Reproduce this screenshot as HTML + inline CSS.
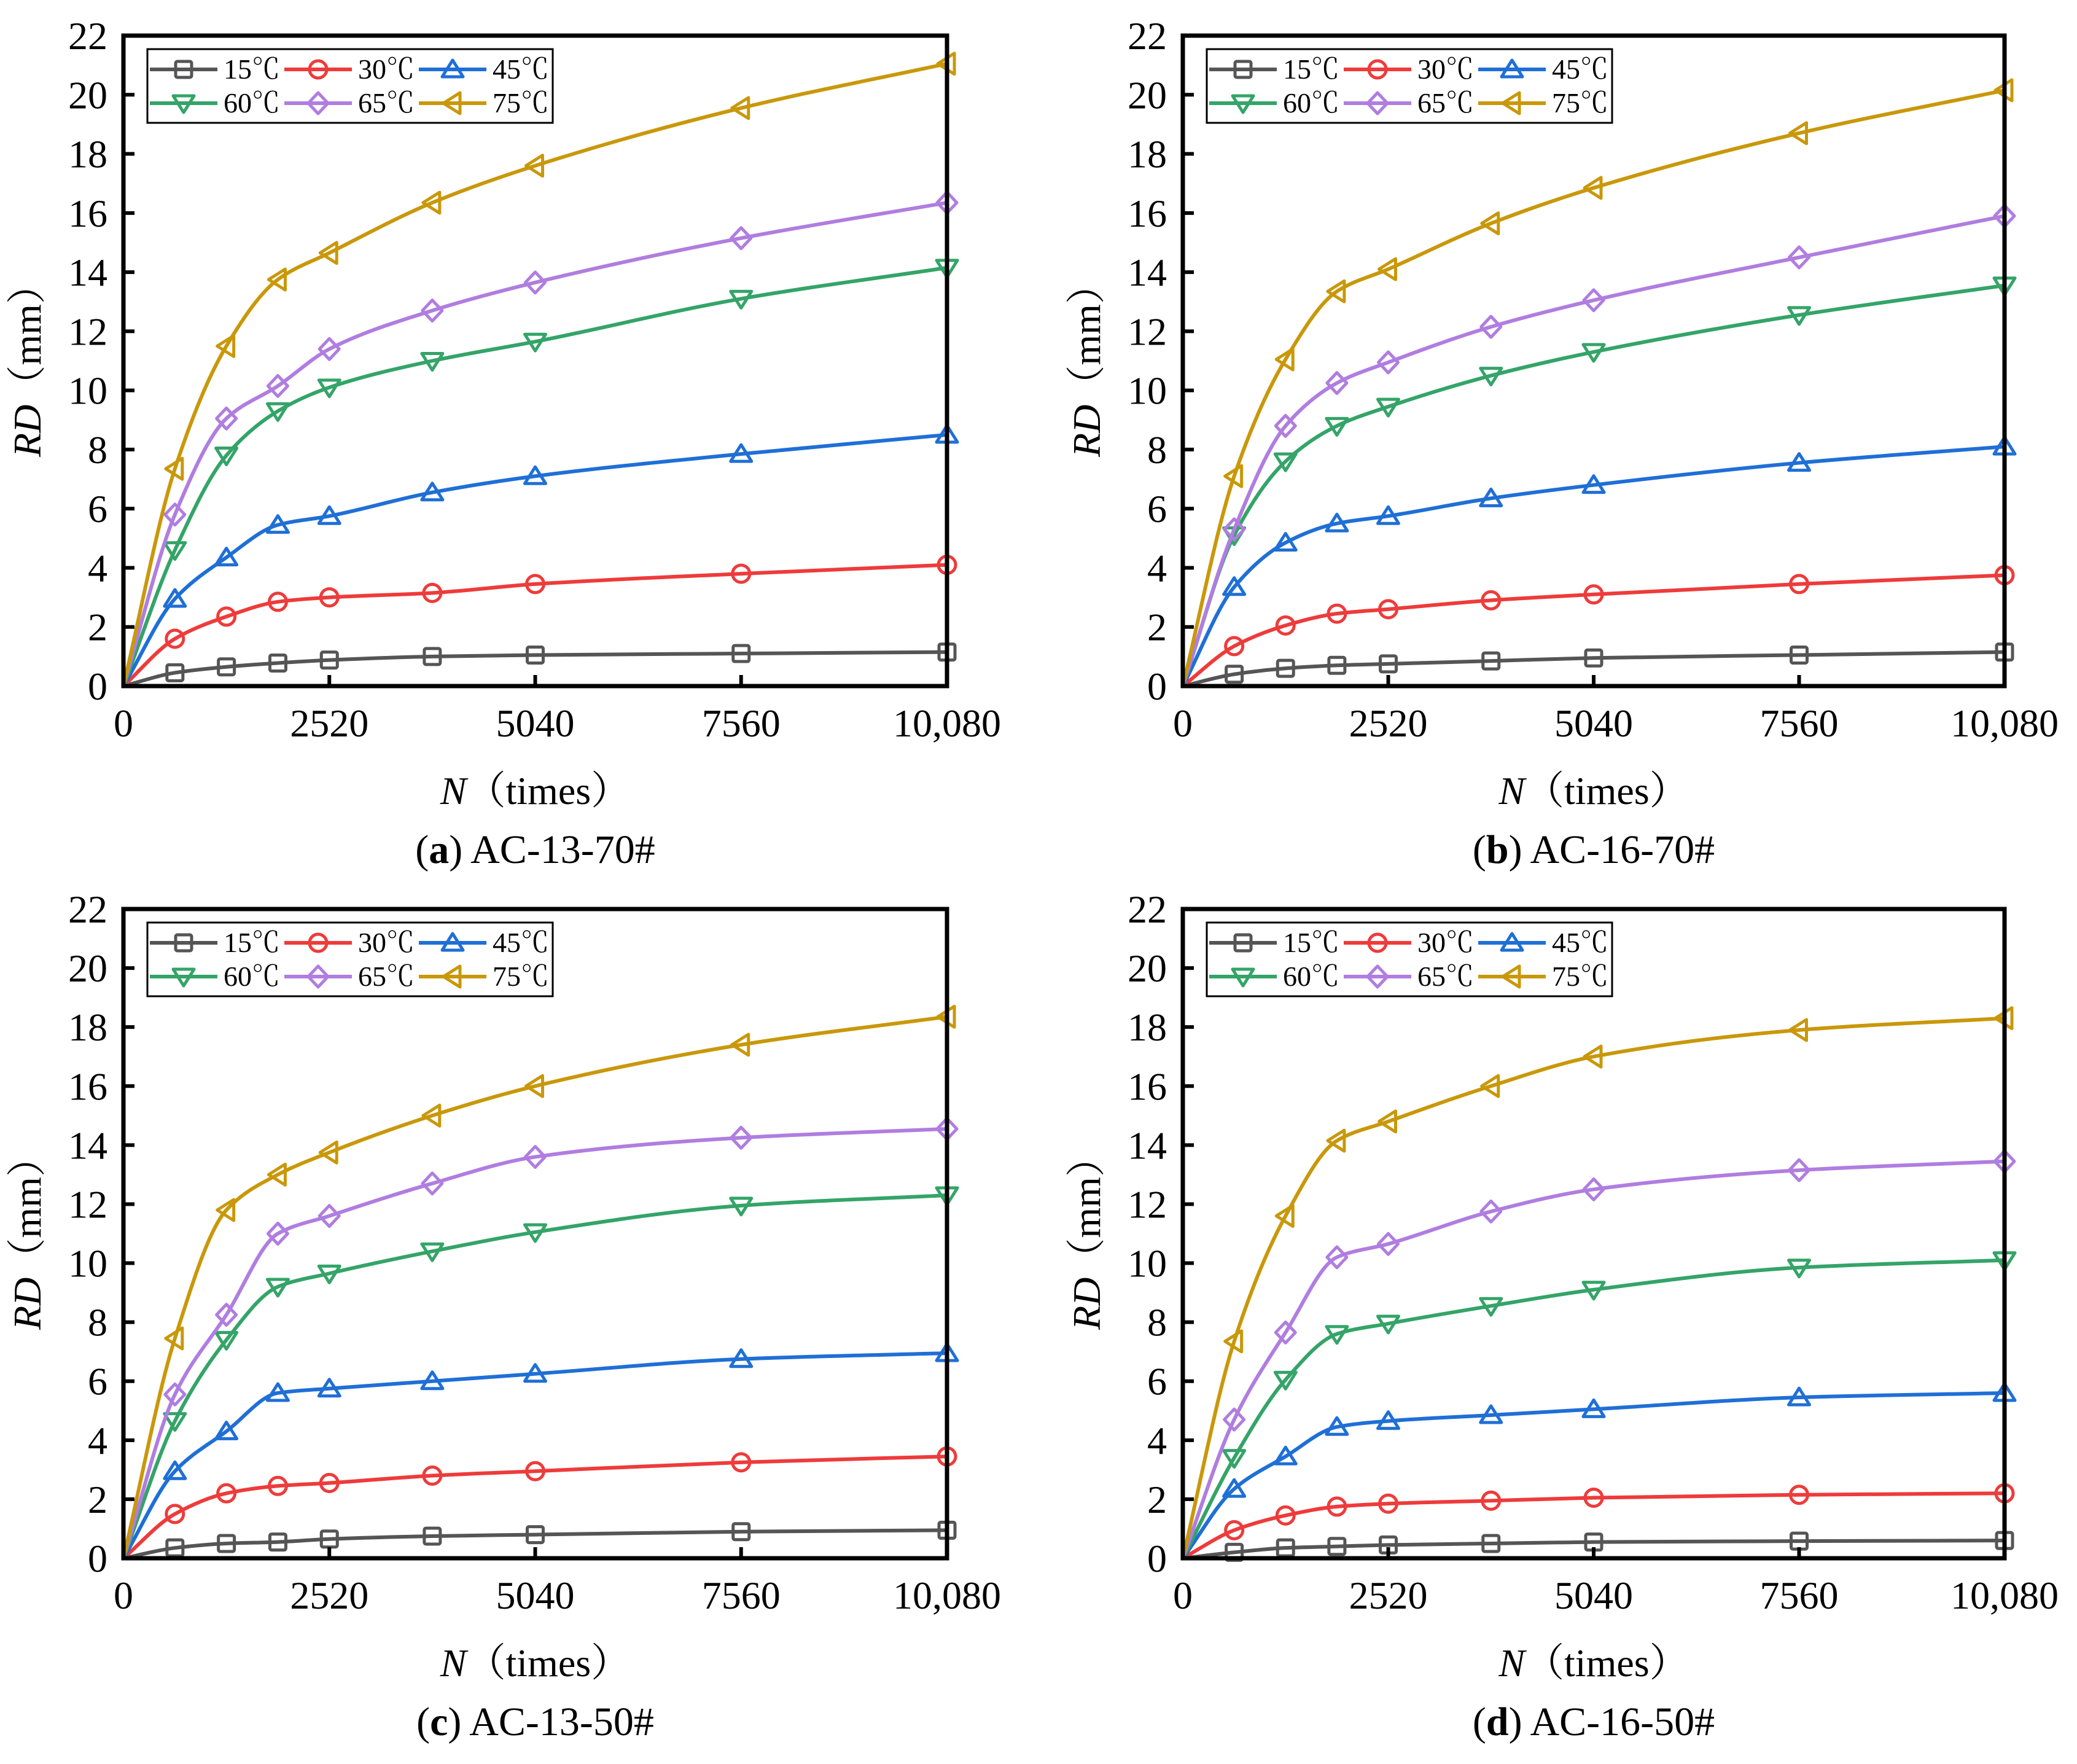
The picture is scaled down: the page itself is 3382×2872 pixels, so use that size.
<!DOCTYPE html>
<html><head><meta charset="utf-8">
<style>
html,body{margin:0;padding:0;background:#fff;}
svg{display:block;}
text{font-family:"Liberation Serif","Noto Serif CJK SC",serif;fill:#000;}
</style></head>
<body>
<svg id="fig" width="3382" height="2872" viewBox="0 0 3382 2872" xmlns="http://www.w3.org/2000/svg"></svg>
<script>
const cycles = [0, 630, 1260, 1890, 2520, 3780, 5040, 7560, 10080];
const seriesNames = ["15℃", "30℃", "45℃", "60℃", "65℃", "75℃"];
const xTicks = [0, 2520, 5040, 7560, 10080];
const xTickLabels = ["0", "2520", "5040", "7560", "10,080"];
const yTicks = [0, 2, 4, 6, 8, 10, 12, 14, 16, 18, 20, 22];
const panelCaptions = ["(a)", "(b)", "(c)", "(d)"];
const panelTitles = [" AC-13-70#", " AC-16-70#", " AC-13-50#", " AC-16-50#"];
const rdA15 = [0,0.45,0.65,0.78,0.88,1.0,1.05,1.1,1.15];
const rdA30 = [0,1.6,2.35,2.85,3.0,3.15,3.45,3.8,4.1];
const rdA45 = [0,2.95,4.35,5.45,5.75,6.55,7.1,7.85,8.5];
const rdA60 = [0,4.6,7.8,9.3,10.1,11.0,11.65,13.1,14.15];
const rdA65 = [0,5.8,9.05,10.15,11.4,12.7,13.65,15.15,16.35];
const rdA75 = [0,7.35,11.5,13.75,14.65,16.35,17.6,19.55,21.05];
const rdB15 = [0,0.4,0.6,0.7,0.75,0.85,0.95,1.05,1.15];
const rdB30 = [0,1.35,2.05,2.45,2.6,2.9,3.1,3.45,3.75];
const rdB45 = [0,3.35,4.85,5.5,5.75,6.35,6.8,7.55,8.1];
const rdB60 = [0,5.1,7.6,8.8,9.45,10.5,11.3,12.55,13.55];
const rdB65 = [0,5.3,8.8,10.25,10.95,12.15,13.05,14.5,15.9];
const rdB75 = [0,7.1,11.05,13.35,14.1,15.65,16.85,18.7,20.15];
const rdC15 = [0,0.35,0.5,0.55,0.65,0.75,0.8,0.9,0.95];
const rdC30 = [0,1.5,2.2,2.45,2.55,2.8,2.95,3.25,3.45];
const rdC45 = [0,2.95,4.3,5.6,5.75,6.0,6.25,6.75,6.95];
const rdC60 = [0,4.65,7.4,9.2,9.65,10.4,11.05,11.95,12.3];
const rdC65 = [0,5.55,8.25,11.0,11.6,12.7,13.6,14.25,14.55];
const rdC75 = [0,7.45,11.8,13.0,13.75,15.0,16.0,17.4,18.35];
const rdD15 = [0,0.2,0.35,0.4,0.45,0.5,0.55,0.58,0.6];
const rdD30 = [0,0.95,1.45,1.75,1.85,1.95,2.05,2.15,2.2];
const rdD45 = [0,2.35,3.45,4.45,4.65,4.85,5.05,5.45,5.6];
const rdD60 = [0,3.4,6.05,7.6,7.95,8.55,9.1,9.85,10.1];
const rdD65 = [0,4.7,7.65,10.2,10.65,11.75,12.5,13.15,13.45];
const rdD75 = [0,7.35,11.6,14.15,14.8,16.0,17.0,17.9,18.3];

const panelData = [
  [rdA15, rdA30, rdA45, rdA60, rdA65, rdA75],
  [rdB15, rdB30, rdB45, rdB60, rdB65, rdB75],
  [rdC15, rdC30, rdC45, rdC60, rdC65, rdC75],
  [rdD15, rdD30, rdD45, rdD60, rdD65, rdD75]
];
const colors = ["#555555", "#ee3b3b", "#1f6fd6", "#34a468", "#b07de0", "#c9980a"];
const markers = ["square", "circle", "up", "down", "diamond", "left"];
const NS = "http://www.w3.org/2000/svg";
const svg = document.getElementById("fig");

function el(tag, attrs, parent) {
  const e = document.createElementNS(NS, tag);
  for (const k in attrs) e.setAttribute(k, attrs[k]);
  (parent || svg).appendChild(e);
  return e;
}

function markerShape(type, cx, cy, color, g) {
  const s = 15;
  let m;
  if (type === "square") m = el("rect", {x: cx - s + 2, y: cy - s + 2, width: 2 * s - 4, height: 2 * s - 4, rx: 3}, g);
  else if (type === "circle") m = el("circle", {cx: cx, cy: cy, r: s - 1}, g);
  else if (type === "up") m = el("polygon", {points: `${cx},${cy - s} ${cx - s - 2},${cy + s - 3} ${cx + s + 2},${cy + s - 3}`}, g);
  else if (type === "down") m = el("polygon", {points: `${cx},${cy + s} ${cx - s - 2},${cy - s + 3} ${cx + s + 2},${cy - s + 3}`}, g);
  else if (type === "diamond") m = el("polygon", {points: `${cx},${cy - s - 2} ${cx + s + 1},${cy} ${cx},${cy + s + 2} ${cx - s - 1},${cy}`}, g);
  else m = el("polygon", {points: `${cx - s},${cy} ${cx + s - 3},${cy - s - 2} ${cx + s - 3},${cy + s + 2}`}, g);
  m.setAttribute("fill", "none");
  m.setAttribute("stroke", color);
  m.setAttribute("stroke-width", "5");
  m.setAttribute("stroke-linejoin", "round");
  
  
  return m;
}

// monotone cubic (Fritsch-Carlson) in screen coords
function smoothPath(pts) {
  const n = pts.length;
  const dx = [], dy = [], m = [];
  for (let i = 0; i < n - 1; i++) { dx.push(pts[i+1][0]-pts[i][0]); dy.push(pts[i+1][1]-pts[i][1]); m.push(dy[i]/dx[i]); }
  const t = [m[0]];
  for (let i = 1; i < n - 1; i++) {
    if (m[i-1]*m[i] <= 0) t.push(0);
    else { const w1 = 2*dx[i]+dx[i-1], w2 = dx[i]+2*dx[i-1]; t.push((w1+w2)/(w1/m[i-1]+w2/m[i])); }
  }
  t.push(m[n-2]);
  let d = `M${pts[0][0]},${pts[0][1]}`;
  for (let i = 0; i < n - 1; i++) {
    const h = dx[i] / 3;
    d += ` C${pts[i][0]+h},${pts[i][1]+t[i]*h} ${pts[i+1][0]-h},${pts[i+1][1]-t[i+1]*h} ${pts[i+1][0]},${pts[i+1][1]}`;
  }
  return d;
}

const layouts = [
  {left: 201, right: 1542, top: 58, bottom: 1117},
  {left: 1926, right: 3264, top: 58, bottom: 1117},
  {left: 201, right: 1542, top: 1480, bottom: 2537},
  {left: 1926, right: 3264, top: 1480, bottom: 2537}
];

layouts.forEach((L, pi) => {
  const g = el("g", {});
  
  
  const xS = v => L.left + (v / 10080) * (L.right - L.left);
  const yS = v => L.bottom - (v / 22) * (L.bottom - L.top);

  panelData[pi].forEach((vals, si) => {
    const sg = el("g", {}, g);
    
    
    const pts = cycles.map((c, k) => [xS(c), yS(vals[k])]);
    const p = el("path", {d: smoothPath(pts), fill: "none", stroke: colors[si], "stroke-width": 6, "stroke-linejoin": "round"}, sg);
    
    
    pts.forEach((pt, k) => { if (k > 0) markerShape(markers[si], pt[0], pt[1], colors[si], sg); });
  });

  const fr = el("rect", {x: L.left, y: L.top, width: L.right - L.left, height: L.bottom - L.top, fill: "none", stroke: "#000", "stroke-width": 7}, g);
  
  

  xTicks.forEach((t, i) => {
    const x = xS(t);
    const tk = el("line", {x1: x, x2: x, y1: L.bottom, y2: L.bottom - 18, stroke: "#000", "stroke-width": 6}, g);
    
    
    const tx = el("text", {x: x, y: L.bottom + 82, "font-size": 64, "text-anchor": "middle"}, g);
    tx.textContent = xTickLabels[i];
    
    
  });
  yTicks.forEach(t => {
    const y = yS(t);
    const tk = el("line", {x1: L.left, x2: L.left + 18, y1: y, y2: y, stroke: "#000", "stroke-width": 6}, g);
    
    
    const tx = el("text", {x: L.left - 26, y: y + 22, "font-size": 64, "text-anchor": "end"}, g);
    tx.textContent = String(t);
    
    
  });

  const cx = (L.left + L.right) / 2;
  const xt = el("text", {x: cx, y: L.bottom + 192, "font-size": 64, "text-anchor": "middle"}, g);
  xt.innerHTML = '<tspan font-style="italic">N</tspan>（times）';
  
  
  const yc = (L.top + L.bottom) / 2;
  const yx = L.left - 135;
  const yt = el("text", {x: yx, y: yc, "font-size": 64, "text-anchor": "middle", transform: `rotate(-90 ${yx} ${yc})`}, g);
  yt.innerHTML = '<tspan font-style="italic">RD</tspan>（mm）';
  
  

  const cap = el("text", {x: cx, y: L.bottom + 288, "font-size": 66, "text-anchor": "middle"}, g);
  cap.innerHTML = '(<tspan font-weight="bold">' + panelCaptions[pi].slice(1, 2) + '</tspan>)' + panelTitles[pi];
  
  

  const lg = el("g", {}, g);
  
  
  const lx = L.left + 39, ly = L.top + 22;
  el("rect", {x: lx, y: ly, width: 660, height: 120, fill: "#fff", stroke: "#000", "stroke-width": 3}, lg);
  for (let si = 0; si < 6; si++) {
    const col = si % 3, row = Math.floor(si / 3);
    const x0 = lx + 4 + col * 219, y0 = ly + 33 + row * 55;
    const e = el("g", {}, lg);
    
    
    el("line", {x1: x0, x2: x0 + 110, y1: y0, y2: y0, stroke: colors[si], "stroke-width": 6}, e);
    markerShape(markers[si], x0 + 55, y0, colors[si], e);
    const t = el("text", {x: x0 + 212, y: y0 + 15, "font-size": 46, "text-anchor": "end"}, e);
    t.textContent = seriesNames[si];
  }
});
</script>
</body></html>
